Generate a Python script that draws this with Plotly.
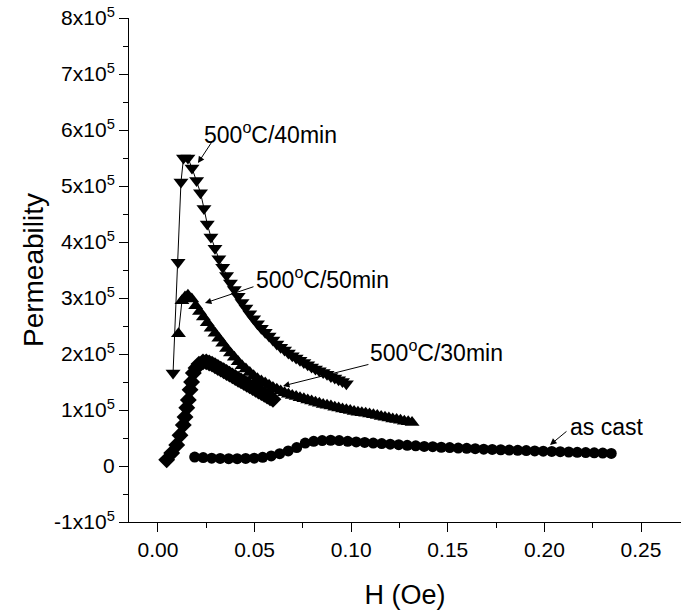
import plotly.graph_objects as go

# ---------------- data ----------------
# 500°C/40min  (down triangles)
h_40 = [0.0078, 0.0104, 0.0119, 0.0132, 0.0155, 0.0176, 0.0200, 0.0220, 0.0238, 0.0255,
        0.0274, 0.0295, 0.0315, 0.0335, 0.0355, 0.0375, 0.0395, 0.0415, 0.0435, 0.0455,
        0.0475, 0.0495, 0.0515, 0.0535, 0.0555, 0.0575, 0.0595, 0.0615, 0.0635, 0.0655,
        0.0675, 0.0695, 0.0715, 0.0735, 0.0755, 0.0775, 0.0795, 0.0815, 0.0835, 0.0855,
        0.0875, 0.0895, 0.0915, 0.0935, 0.0955, 0.0975]
p_40 = [1.66, 3.64, 5.07, 5.50, 5.50, 5.32, 5.10, 4.88, 4.60, 4.32,
        4.09, 3.89, 3.70, 3.55, 3.40, 3.27, 3.15, 3.03, 2.92, 2.82,
        2.72, 2.63, 2.54, 2.46, 2.39, 2.32, 2.25, 2.18, 2.12, 2.07,
        2.02, 1.97, 1.93, 1.89, 1.85, 1.81, 1.77, 1.73, 1.70, 1.67,
        1.64, 1.60, 1.57, 1.54, 1.51, 1.47]

# 500°C/50min  (up triangles)
h_50 = [0.0106, 0.0124, 0.0140, 0.0155, 0.0175, 0.0195, 0.0215, 0.0235, 0.0255, 0.0275,
        0.0295, 0.0315, 0.0335, 0.0355, 0.0375, 0.0395, 0.0415, 0.0435, 0.0455, 0.0475,
        0.0495, 0.0515, 0.0535, 0.0555, 0.0575, 0.0595, 0.0615, 0.0635, 0.0655, 0.0675,
        0.0695, 0.0715, 0.0735, 0.0755, 0.0775, 0.0795, 0.0815, 0.0835, 0.0855, 0.0875,
        0.0895, 0.0915, 0.0935, 0.0955, 0.0975, 0.0995, 0.1015, 0.1035, 0.1055, 0.1075,
        0.1095, 0.1115, 0.1135, 0.1155, 0.1175, 0.1195, 0.1215, 0.1235, 0.1255, 0.1275,
        0.1295, 0.1315]
p_50 = [2.36, 2.95, 3.02, 3.05, 2.98, 2.86, 2.76, 2.66, 2.56, 2.46,
        2.37, 2.28, 2.19, 2.10, 2.02, 1.94, 1.86, 1.79, 1.73, 1.67,
        1.61, 1.56, 1.52, 1.48, 1.44, 1.40, 1.37, 1.34, 1.31, 1.28,
        1.26, 1.24, 1.22, 1.20, 1.18, 1.16, 1.14, 1.12, 1.10, 1.085,
        1.07, 1.05, 1.035, 1.02, 1.005, 0.99, 0.975, 0.96, 0.95, 0.94,
        0.93, 0.915, 0.90, 0.885, 0.87, 0.855, 0.84, 0.83, 0.815, 0.80,
        0.79, 0.775]

# 500°C/30min  (diamonds)
h_30 = [0.0045, 0.0071, 0.0097, 0.0114, 0.0131, 0.0140, 0.0149, 0.0157, 0.0166, 0.0174,
        0.0183, 0.0197, 0.0212, 0.0233, 0.0250, 0.0265, 0.0280, 0.0295, 0.0310, 0.0325,
        0.0340, 0.0355, 0.0370, 0.0385, 0.0400, 0.0415, 0.0430, 0.0445, 0.0460, 0.0475,
        0.0490, 0.0505, 0.0520, 0.0535, 0.0550, 0.0565, 0.0580, 0.0595]
p_30 = [0.11, 0.23, 0.375, 0.55, 0.73, 0.875, 1.04, 1.18, 1.36, 1.50,
        1.66, 1.75, 1.82, 1.86, 1.86, 1.84, 1.82, 1.79, 1.76, 1.73,
        1.70, 1.67, 1.64, 1.61, 1.58, 1.55, 1.52, 1.49, 1.46, 1.43,
        1.40, 1.37, 1.34, 1.31, 1.28, 1.25, 1.22, 1.19]

# as cast  (circles)
h_ac = [0.0190, 0.0234, 0.0278, 0.0322, 0.0366, 0.0410, 0.0454, 0.0498, 0.0542, 0.0586,
        0.0630, 0.0674, 0.0718, 0.0762, 0.0806, 0.0850, 0.0894, 0.0938, 0.0982, 0.1026,
        0.1070, 0.1114, 0.1158, 0.1202, 0.1246, 0.1290, 0.1334, 0.1378, 0.1422, 0.1466,
        0.1510, 0.1554, 0.1598, 0.1642, 0.1686, 0.1730, 0.1774, 0.1818, 0.1862, 0.1906,
        0.1950, 0.1994, 0.2038, 0.2082, 0.2126, 0.2170, 0.2214, 0.2258, 0.2302, 0.2346]
p_ac = [0.16, 0.15, 0.14, 0.135, 0.13, 0.13, 0.135, 0.14, 0.155, 0.18,
        0.22, 0.27, 0.33, 0.41, 0.44, 0.455, 0.46, 0.455, 0.44, 0.43,
        0.42, 0.41, 0.40, 0.39, 0.38, 0.37, 0.36, 0.35, 0.345, 0.335,
        0.33, 0.32, 0.315, 0.31, 0.30, 0.295, 0.29, 0.285, 0.28, 0.275,
        0.27, 0.265, 0.26, 0.255, 0.25, 0.245, 0.24, 0.235, 0.23, 0.225]

SCALE = 1e5
y_ticks = [-1, 0, 1, 2, 3, 4, 5, 6, 7, 8]
y_ticktext = ["-1x10<sup>5</sup>", "0", "1x10<sup>5</sup>", "2x10<sup>5</sup>", "3x10<sup>5</sup>",
              "4x10<sup>5</sup>", "5x10<sup>5</sup>", "6x10<sup>5</sup>", "7x10<sup>5</sup>",
              "8x10<sup>5</sup>"]
x_ticks = [0.00, 0.05, 0.10, 0.15, 0.20, 0.25]
x_ticktext = ["0.00", "0.05", "0.10", "0.15", "0.20", "0.25"]

# label text, arrow head (H, P/1e5), arrow tail (H, P/1e5), text centre (H, P/1e5)
labels = [
    ("500<sup>o</sup>C/40min", (0.0207, 5.41), (0.0285, 5.82), (0.0580, 5.95)),
    ("500<sup>o</sup>C/50min", (0.0243, 2.91), (0.0502, 3.21), (0.0849, 3.36)),
    ("500<sup>o</sup>C/30min", (0.0647, 1.43), (0.1097, 1.82), (0.1440, 2.05)),
    ("as cast", (0.2029, 0.375), (0.2122, 0.64), (0.2320, 0.70)),
]

FONT = "Liberation Sans, Arial, sans-serif"

fig = go.Figure()
series = [
    (h_ac, p_ac, "circle", 11),
    (h_30, p_30, "diamond", 13),
    (h_50, p_50, "triangle-up", 13),
    (h_40, p_40, "triangle-down", 13),
]
for hx, py, sym, sz in series:
    fig.add_trace(go.Scatter(
        x=hx, y=[v * SCALE for v in py], mode="lines+markers",
        line=dict(color="black", width=1),
        marker=dict(symbol=sym, size=sz, color="black", line=dict(width=0)),
        showlegend=False, cliponaxis=False))

for text, head, tail, centre in labels:
    fig.add_annotation(x=head[0], y=head[1] * SCALE, ax=tail[0], ay=tail[1] * SCALE,
                       axref="x", ayref="y", xref="x", yref="y", text="",
                       showarrow=True, arrowhead=2, arrowsize=1.3, arrowwidth=1,
                       arrowcolor="black")
    fig.add_annotation(x=centre[0], y=centre[1] * SCALE, xref="x", yref="y", text=text,
                       showarrow=False, font=dict(family=FONT, size=23, color="black"),
                       xanchor="center", yanchor="middle")

fig.update_layout(
    width=681, height=616,
    margin=dict(l=129, r=0, t=18, b=94),
    plot_bgcolor="white", paper_bgcolor="white",
    font=dict(family=FONT, color="black"),
    xaxis=dict(range=[-0.015, 0.2707], tickvals=x_ticks, ticktext=x_ticktext,
               showline=True, linecolor="black", linewidth=1, ticks="outside",
               ticklen=9, tickcolor="black", tickfont=dict(size=21, family=FONT),
               minor=dict(ticks="outside", ticklen=5, dtick=0.025, tick0=0, tickcolor="black"),
               showgrid=False, zeroline=False,
               title=dict(text="H (Oe)", font=dict(size=27, family=FONT), standoff=24)),
    yaxis=dict(range=[-1e5, 8e5], tickvals=[v * SCALE for v in y_ticks], ticktext=y_ticktext,
               showline=True, linecolor="black", linewidth=1, ticks="outside",
               ticklen=9, tickcolor="black", tickfont=dict(size=21, family=FONT),
               minor=dict(ticks="outside", ticklen=5, dtick=5e4, tick0=0, tickcolor="black"),
               showgrid=False, zeroline=False,
               title=dict(text="Permeability", font=dict(size=28, family=FONT), standoff=2)),
)

fig.write_html("out.html")
